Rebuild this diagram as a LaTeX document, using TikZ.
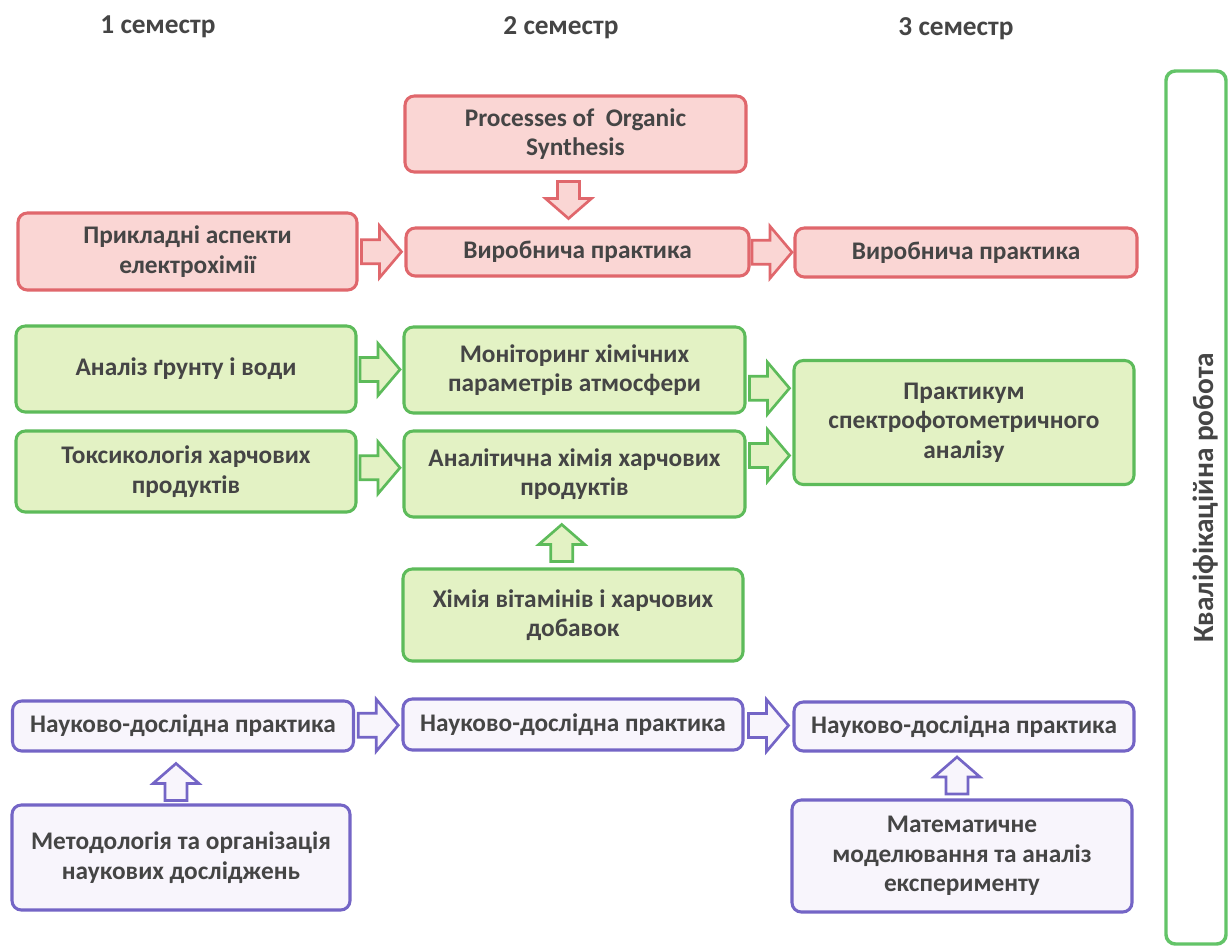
\documentclass[tikz,border=0pt]{standalone}
\usepackage{fontspec}
\setmainfont{Carlito}
\usetikzlibrary{calc}
\definecolor{txt}{HTML}{454545}
\definecolor{rline}{HTML}{E0676C}
\definecolor{rfill}{HTML}{FAD6D4}
\definecolor{gline}{HTML}{5DBB5A}
\definecolor{gfill}{HTML}{E3F2C4}
\definecolor{bline}{HTML}{7465C6}
\definecolor{bfill}{HTML}{F8F5FC}
\definecolor{kline}{HTML}{63C468}
\tikzset{
  bw/.style={minimum width=#1*0.75pt},
  bh/.style={minimum height=#1*0.75pt},
  box/.style={rectangle, rounded corners=7pt, line width=2.3pt, align=center,
    inner sep=2pt, text=txt, font=\bfseries\fontsize{19}{22}\selectfont},
  rbox/.style={box, draw=rline, fill=rfill},
  gbox/.style={box, draw=gline, fill=gfill},
  bbox/.style={box, draw=bline, fill=bfill},
  head/.style={text=txt, font=\bfseries\fontsize{20.5}{22}\selectfont},
  rarr/.style={draw=rline, fill=rfill, line width=2pt, line join=miter},
  garr/.style={draw=gline, fill=gfill, line width=2pt, line join=miter},
  barr/.style={draw=bline, fill=bfill, line width=2pt, line join=miter},
  pics/harr/.style={code={
    \path[pic actions] (-20,-12) -- (-2,-12) -- (-2,-26) -- (20,0) -- (-2,26) -- (-2,12) -- (-20,12) -- cycle;}},
  pics/varr/.style={code={
    \path[pic actions] (-18.5,-11) -- (-1.5,-11) -- (-1.5,-23) -- (18.5,0) -- (-1.5,23) -- (-1.5,11) -- (-18.5,11) -- cycle;}},
}
\begin{document}
\begin{tikzpicture}[x=0.75pt, y=-0.75pt]
\useasboundingbox (0,0) rectangle (1229,947);
\fill[white] (0,0) rectangle (1229,947);

% headers
\node[head] (h1) at (158,27) {1 семестр};
\node[head] (h2) at (561,28) {2 семестр};
\node[head] (h3) at (956,29) {3 семестр};

% red
\node[rbox, bw=341, bh=76] (proc) at (575.5,134) {Processes of \ Organic\\Synthesis};
\node[rbox, bw=339, bh=77] (prik) at (187.5,251.5) {Прикладні аспекти\\електрохімії};
\node[rbox, bw=343, bh=48] (vyr2) at (577.5,252) {Виробнича практика};
\node[rbox, bw=342, bh=49] (vyr3) at (966,252.5) {Виробнича практика};

% green
\node[gbox, bw=340, bh=86] (anal) at (186,369) {Аналіз ґрунту і води};
\node[gbox, bw=341, bh=86] (mon) at (574.5,370) {Моніторинг хімічних\\параметрів атмосфери};
\node[gbox, bw=340, bh=81] (toks) at (186,471.5) {Токсикологія харчових\\продуктів};
\node[gbox, bw=341, bh=86] (anch) at (574.5,474) {Аналітична хімія харчових\\продуктів};
\node[gbox, bw=340, bh=124] (prak) at (964,422.5) {Практикум\\спектрофотометричного\\аналізу};
\node[gbox, bw=340, bh=92] (vit) at (573,615) {Хімія вітамінів і харчових\\добавок};

% blue
\node[bbox, bw=341, bh=50] (nau1) at (183,726) {Науково-дослідна практика};
\node[bbox, bw=340, bh=51] (nau2) at (573,724.5) {Науково-дослідна практика};
\node[bbox, bw=340, bh=49] (nau3) at (964,726.5) {Науково-дослідна практика};
\node[bbox, bw=338, bh=105] (met) at (181,857.5) {Методологія та організація\\наукових досліджень};
\node[bbox, bw=340, bh=112] (mat) at (962,856) {Математичне\\моделювання та аналіз\\експерименту};

% qualification work
\node[rectangle, rounded corners=7pt, line width=2.6pt, draw=kline, fill=white,
  bw=60, bh=873] (kval) at (1196,507.5) {};
\node[head, rotate=90, font=\bfseries\fontsize{22}{24}\selectfont] (kvt) at (1206,498) {Кваліфікаційна робота};

% arrows
\pic[rarr, rotate=-90] at ($(proc.south)!0.5!(vyr2.north)+(-8,0)$) {varr};
\pic[rarr] at ($(prik.east)!0.5!(vyr2.west)$) {harr};
\pic[rarr] at ($(vyr2.east)!0.5!(vyr3.west)$) {harr};

\pic[garr] at ($(anal.east)!0.5!(mon.west)$) {harr};
\pic[garr] at ($(toks.east)!0.5!(anch.west)+(0,-5)$) {harr};
\coordinate (pk1) at ($(prak.north west)!0.23!(prak.south west)$);
\coordinate (pk2) at ($(prak.north west)!0.76!(prak.south west)$);
\pic[garr] at ($(mon.east |- pk1)!0.5!(pk1)$) {harr};
\pic[garr] at ($(anch.east |- pk2)!0.5!(pk2)$) {harr};
\pic[garr, rotate=90] at ($(vit.north)!0.5!(anch.south)+(-12,0)$) {varr};

\pic[barr] at ($(nau1.east)!0.5!(nau2.west)$) {harr};
\pic[barr] at ($(nau2.east)!0.5!(nau3.west)$) {harr};
\pic[barr, rotate=90] at ($(met.north)!0.5!(nau1.south)+(-6,4)$) {varr};
\pic[barr, rotate=90] at ($(mat.north)!0.5!(nau3.south)+(-6,0)$) {varr};
\end{tikzpicture}
\end{document}
